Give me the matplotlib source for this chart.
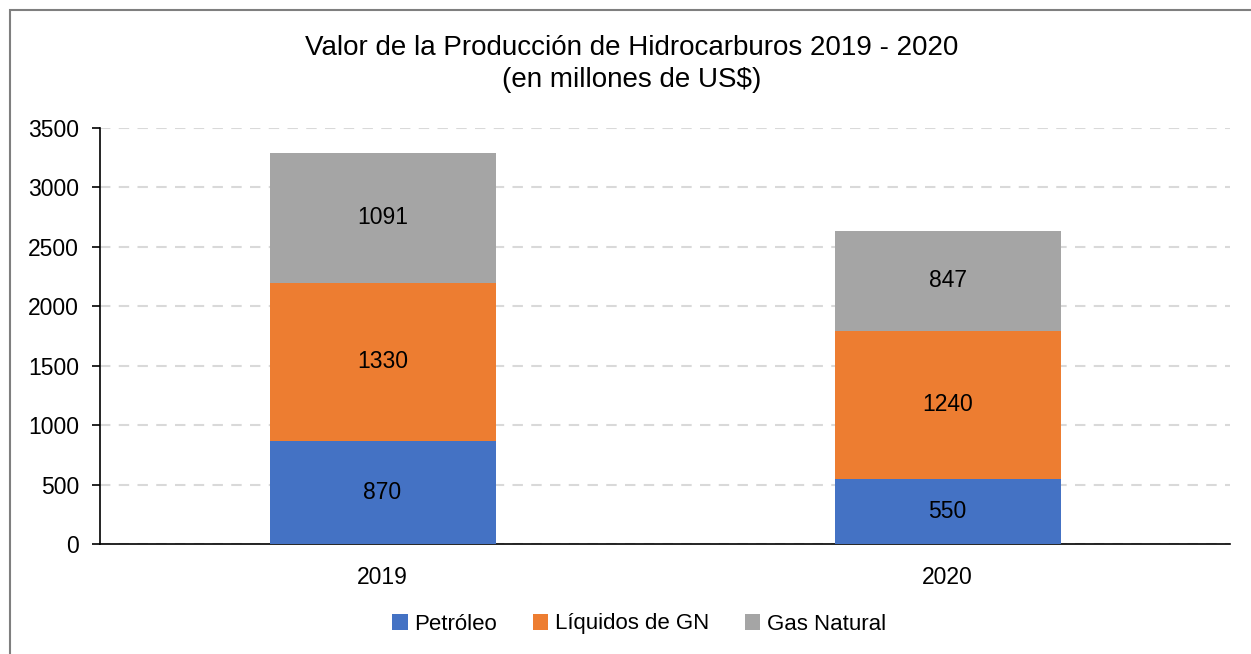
import matplotlib
matplotlib.use("Agg")
import matplotlib.pyplot as plt
from matplotlib.patches import Rectangle
import numpy as np

plt.rcParams['font.family'] = ['Liberation Sans', 'DejaVu Sans']

years = ['2019', '2020']
petroleo = [870, 550]
liquidos = [1330, 1240]
gas = [1091, 847]
series_names = ['Petróleo', 'Líquidos de GN', 'Gas Natural']
colors = ['#4472c4', '#ed7d31', '#a5a5a5']

fig = plt.figure(figsize=(12.51, 6.54), dpi=100)
# outer chart frame (only left and top edges visible in the crop)
fig.patches.append(Rectangle((10/1251, -0.05), 1.05, 1 - 10/654 + 0.05,
                             transform=fig.transFigure, fill=False,
                             edgecolor='#7f7f7f', linewidth=1.5))

ax = fig.add_axes([100/1251, 1 - 544/654, 1130/1251, 416/654])

x = np.arange(len(years))
bottom = np.zeros(len(years))
for vals, name, col in zip([petroleo, liquidos, gas], series_names, colors):
    bars = ax.bar(x, vals, 0.4, bottom=bottom, color=col, label=name, zorder=3)
    ax.bar_label(bars, labels=[str(v) for v in vals], label_type='center',
                 fontsize=16.5, color='black')
    bottom += np.array(vals)

ax.set_xlim(-0.5, 1.5)
ax.set_ylim(0, 3500)
ax.set_yticks(range(0, 3501, 500))
ax.set_xticks(x)
ax.set_xticklabels(years)
ax.tick_params(axis='y', labelsize=16.5, length=6, width=1.2, direction='out', pad=9)
ax.tick_params(axis='x', labelsize=16.5, length=0, pad=16)
ax.yaxis.grid(True, linestyle=(0, (5, 4)), color='#d9d9d9', linewidth=1.5, zorder=0)
for s in ['top', 'right']:
    ax.spines[s].set_visible(False)
ax.spines['left'].set_linewidth(1.2)
ax.spines['bottom'].set_linewidth(1.2)

fig.text(0.505, 1 - 48/654, 'Valor de la Producción de Hidrocarburos 2019 - 2020',
         ha='center', va='center', fontsize=20)
fig.text(0.505, 1 - 80/654, '(en millones de US$)', ha='center', va='center', fontsize=20)

fig.legend(loc='center', bbox_to_anchor=(0.511, 1 - 624/654), ncol=3, frameon=False,
           fontsize=16, handlelength=0.7, handleheight=0.7, handletextpad=0.3,
           columnspacing=1.6)

fig.savefig('out.png', dpi=100)
